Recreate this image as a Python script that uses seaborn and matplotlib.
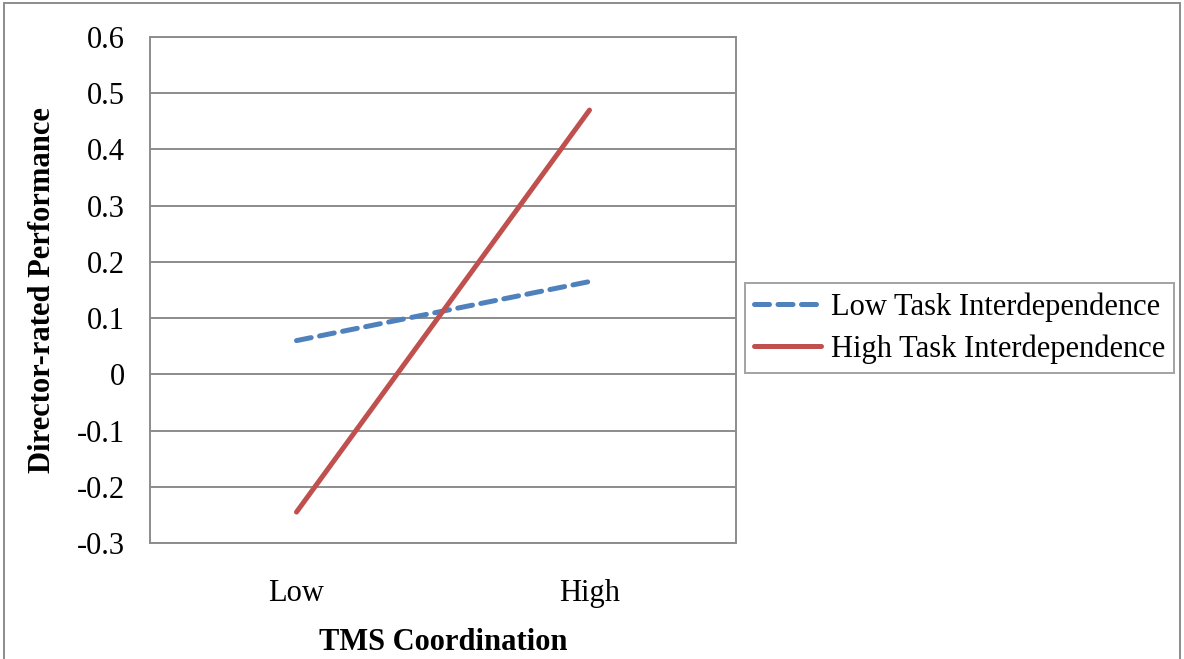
import pandas as pd
import matplotlib
matplotlib.use("Agg")
import matplotlib.pyplot as plt
import matplotlib.patches as mpatches
import seaborn as sns

# data
coordination = ["Low", "High"]
low_task = [0.06, 0.165]
high_task = [-0.245, 0.47]
series_names = ["Low Task Interdependence", "High Task Interdependence"]
yticks = [-0.3, -0.2, -0.1, 0, 0.1, 0.2, 0.3, 0.4, 0.5, 0.6]

df = pd.DataFrame({
    "TMS Coordination": coordination * 2,
    "Performance": low_task + high_task,
    "Series": [series_names[0]] * 2 + [series_names[1]] * 2,
})

sns.set_style("white")
plt.rcParams['font.family'] = ['Liberation Serif', 'DejaVu Serif']
plt.rcParams['text.color'] = 'black'
plt.rcParams['axes.labelcolor'] = 'black'

fig = plt.figure(figsize=(11.84, 6.59), dpi=100)
ax = fig.add_axes([150/1184, 1-543/659, 586/1184, 506/659])

sns.lineplot(data=df, x="TMS Coordination", y="Performance", hue="Series", style="Series",
             palette={series_names[0]: "#4F81BD", series_names[1]: "#C0504D"},
             dashes={series_names[0]: (3.0, 1.7), series_names[1]: ""},
             linewidth=3.6, dash_capstyle='round', solid_capstyle='round',
             ax=ax, legend=True)

ax.set_xlim(-0.5, 1.5)
ax.set_ylim(-0.3, 0.6)
ax.set_yticks(yticks)
ax.set_yticklabels(["%g" % v for v in yticks])
ax.yaxis.grid(True, color="#8c8c8c", linewidth=1.4)
ax.set_axisbelow(True)
for s in ax.spines.values():
    s.set_color("#8c8c8c")
    s.set_linewidth(1.4)
ax.tick_params(axis="both", length=0, labelsize=22, colors="black")
ax.tick_params(axis="y", pad=18)
ax.tick_params(axis="x", pad=26)

ax.set_xlabel("TMS Coordination", fontsize=22, fontweight="bold", labelpad=14)
ax.set_ylabel("Director-rated Performance", fontsize=22, fontweight="bold", labelpad=14)

handles, labels = ax.get_legend_handles_labels()
ax.get_legend().remove()
leg = fig.legend(handles, labels, loc="center left", bbox_to_anchor=(745/1184, 1-328/659),
                 fontsize=22, frameon=True, fancybox=False, handlelength=2.2,
                 handletextpad=0.3, borderpad=0.3, labelspacing=0.4, borderaxespad=0)
leg.get_frame().set_edgecolor("#8c8c8c")
leg.get_frame().set_linewidth(1.4)

# outer chart border
fig.patches.append(mpatches.Rectangle((4/1184, -0.02), 1176/1184, 1.02 - 3/659,
                                      transform=fig.transFigure, fill=False,
                                      edgecolor="#8c8c8c", linewidth=1.4))

fig.savefig("out.png", dpi=100)
